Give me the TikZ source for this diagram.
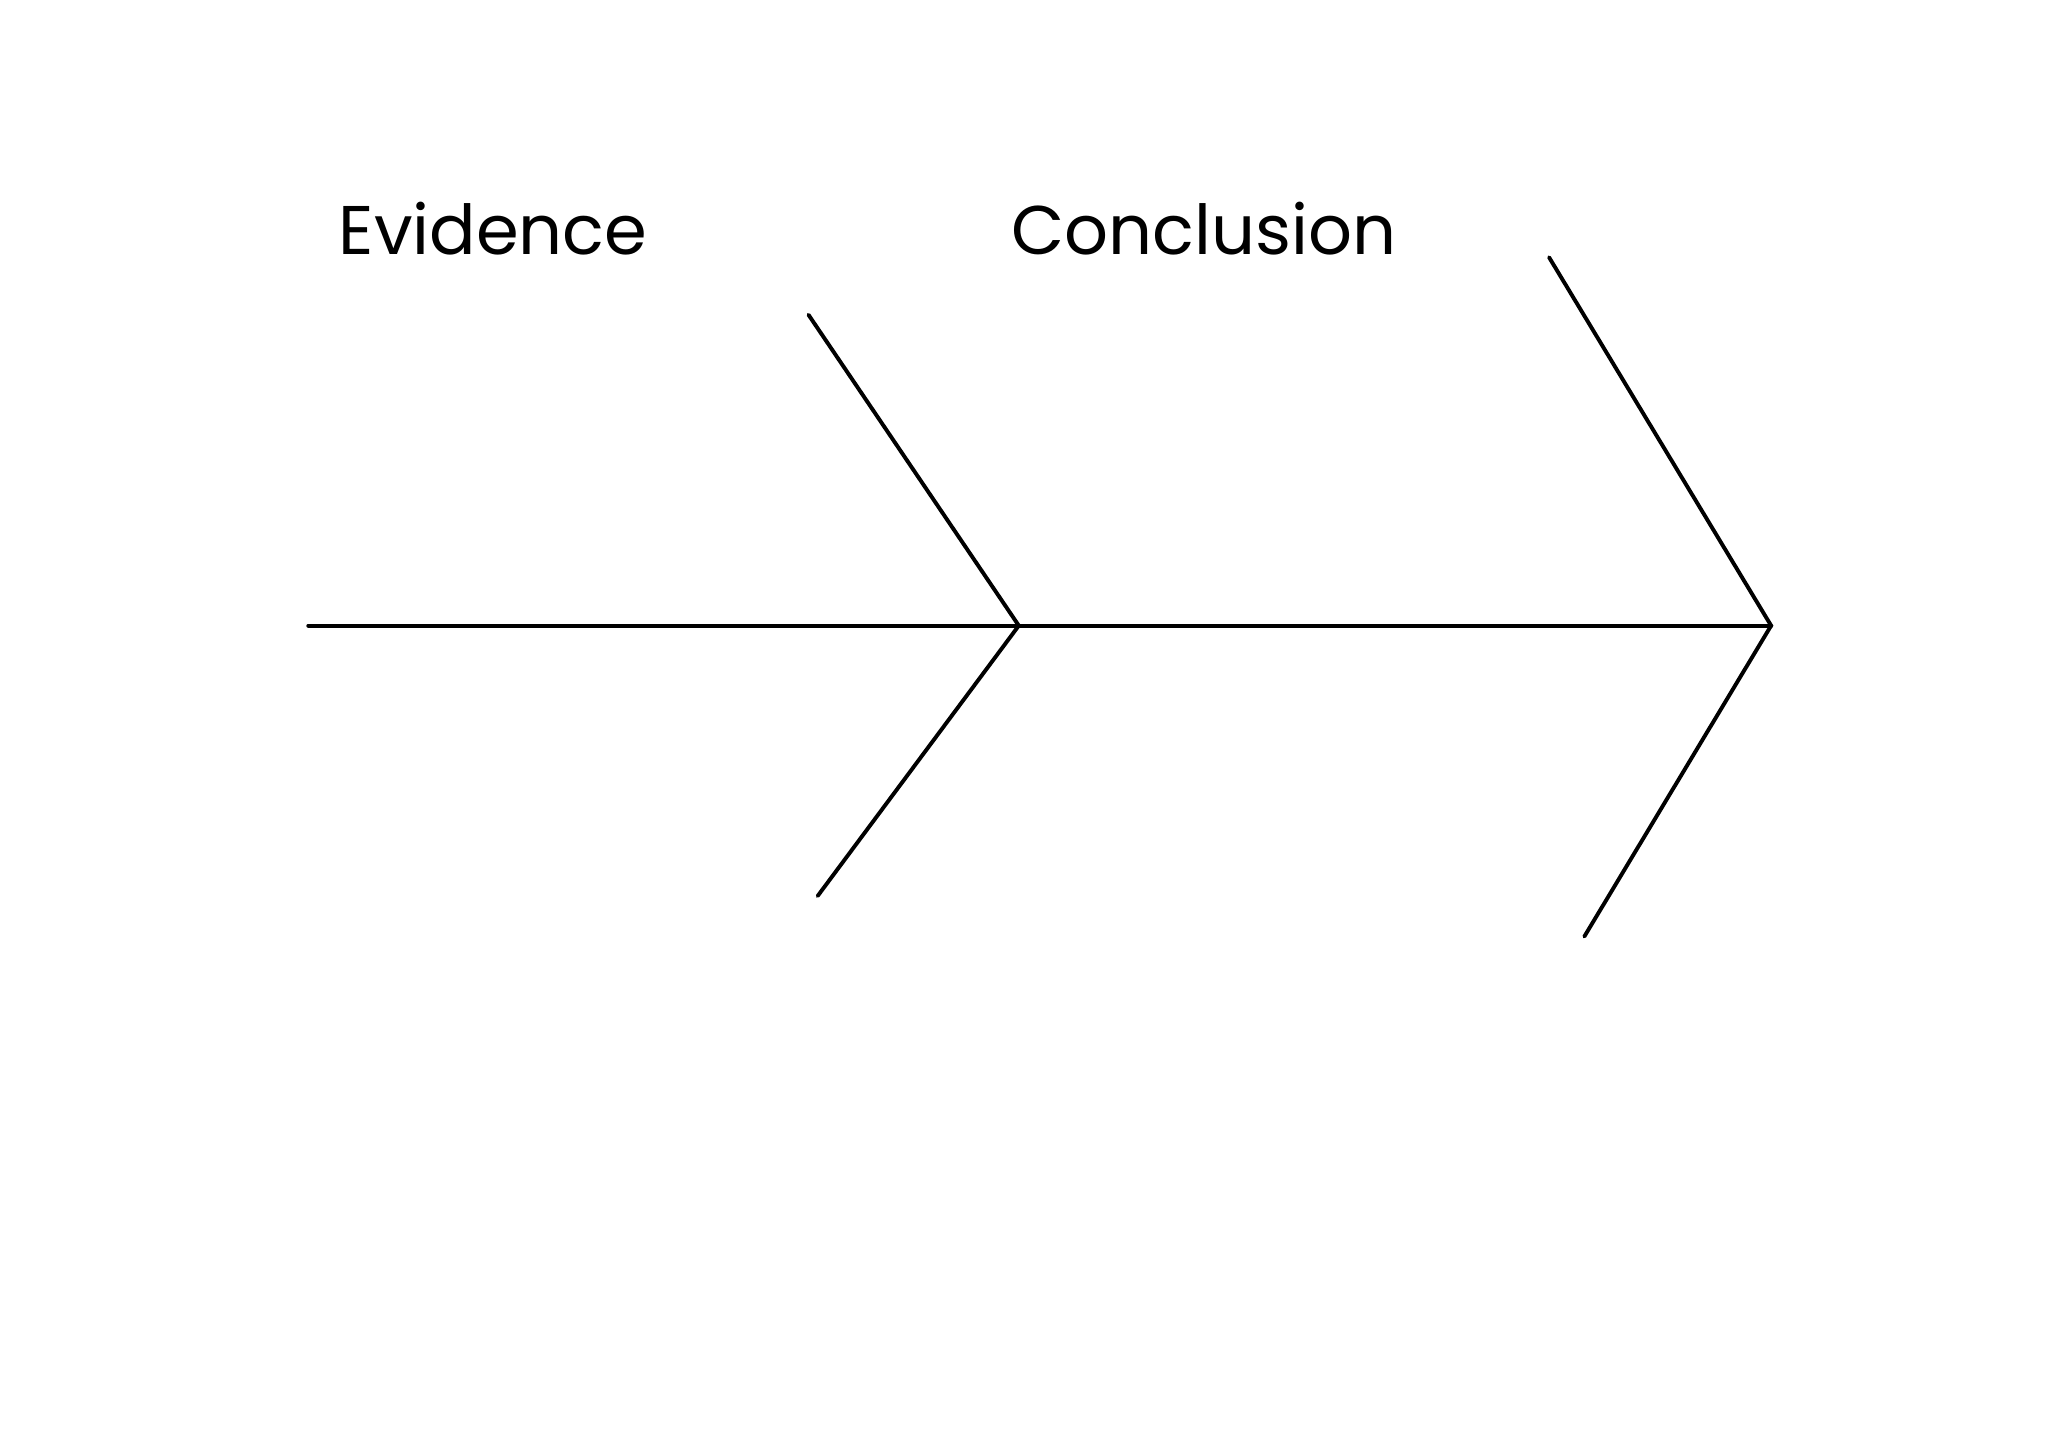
\documentclass[tikz,border=0pt]{standalone}
\usepackage{fontspec}
\setmainfont{Poppins}
\begin{document}
\begin{tikzpicture}[x=0.02cm,y=-0.02cm,bone/.style={line width=1.7pt,line cap=round},lbl/.style={font=\fontsize{30}{36}\selectfont,anchor=base west,inner sep=0pt}]
\useasboundingbox (0,0) rectangle (1568,1108);
\coordinate (tail) at (236,479);
\coordinate (mid) at (780,479);
\coordinate (head) at (1356,479);
\coordinate (a1) at (619,241);
\coordinate (a2) at (626,686);
\coordinate (b1) at (1186,197);
\coordinate (b2) at (1213,717);
\draw[bone] (tail) -- (mid) -- (head);
\draw[bone] (a1) -- (mid) -- (a2);
\draw[bone] (b1) -- (head) -- (b2);
\node[lbl] (ev) at (259,195) {Evidence};
\node[lbl] (co) at (774,195) {Conclusion};
\end{tikzpicture}
\end{document}
